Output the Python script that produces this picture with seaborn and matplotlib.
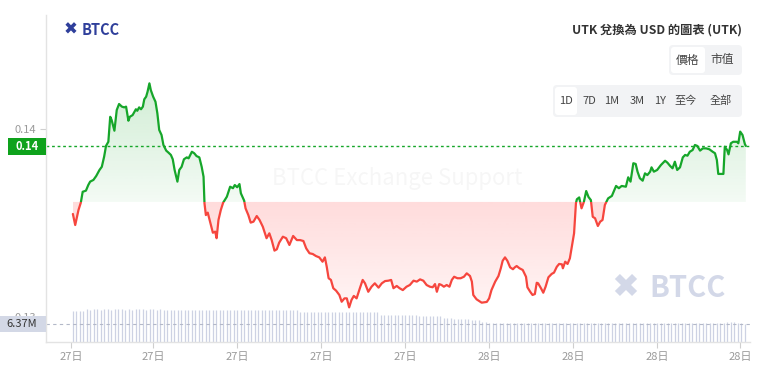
import numpy as np
import pandas as pd
import matplotlib
matplotlib.use("Agg")
import matplotlib.pyplot as plt
import seaborn as sns
from matplotlib.patches import Rectangle, FancyBboxPatch
from matplotlib.path import Path
from matplotlib.transforms import Affine2D

# ---------------- data ----------------
# minutes after 27日 09:00
minutes = [
    4, 9, 16, 21, 25, 32, 37, 41, 48, 54,
    61, 66, 71, 75, 80, 84, 87, 93, 98, 103,
    109, 114, 118, 123, 126, 132, 135, 139, 142, 146,
    150, 154, 157, 161, 164, 168, 171, 176, 181, 185,
    189, 194, 198, 204, 209, 214, 218, 222, 228, 232,
    237, 242, 248, 252, 259, 264, 269, 275, 280, 284,
    286, 289, 293, 298, 304, 309, 312, 316, 321, 326,
    334, 341, 347, 351, 356, 361, 364, 371, 374, 380,
    385, 391, 398, 404, 411, 419, 425, 430, 436, 441,
    446, 454, 461, 468, 476, 484, 491, 498, 504, 511,
    518, 525, 532, 539, 544, 548, 552, 557, 562, 568,
    575, 580, 586, 591, 596, 601, 606, 612, 619, 625,
    630, 637, 644, 651, 659, 666, 673, 680, 686, 691,
    698, 704, 711, 719, 726, 734, 741, 748, 755, 762,
    769, 775, 780, 784, 789, 794, 799, 805, 811, 816,
    821, 828, 835, 842, 848, 855, 859, 862, 869, 880,
    891, 896, 901, 909, 916, 921, 925, 930, 935, 941,
    947, 951, 955, 961, 968, 975, 978, 984, 989, 994,
    998, 1001, 1007, 1012, 1017, 1023, 1030, 1035, 1041, 1046,
    1052, 1054, 1059, 1064, 1069, 1075, 1078, 1082, 1084, 1089,
    1094, 1099, 1104, 1109, 1114, 1118, 1123, 1129, 1134, 1139,
    1144, 1151, 1159, 1168, 1174, 1180, 1189, 1194, 1199, 1205,
    1210, 1214, 1219, 1225, 1230, 1235, 1241, 1244, 1249, 1256,
    1264, 1273, 1278, 1284, 1289, 1294, 1299, 1305, 1311, 1316,
    1321, 1326, 1332, 1337, 1342, 1348, 1354, 1361, 1368, 1375,
    1380, 1384, 1387, 1398, 1401, 1406, 1409, 1414, 1419, 1427,
    1430, 1434, 1439, 1444, 1446,
]
prices = [
    0.13548, 0.13489, 0.13569, 0.13608, 0.13666, 0.13672, 0.13702, 0.13720, 0.13729, 0.13750,
    0.13782, 0.13799, 0.13853, 0.13910, 0.13932, 0.14065, 0.14048, 0.13991, 0.14101, 0.14133,
    0.14119, 0.14115, 0.14119, 0.14044, 0.14065, 0.14074, 0.14087, 0.14105, 0.14097, 0.14115,
    0.14105, 0.14119, 0.14158, 0.14172, 0.14198, 0.14243, 0.14207, 0.14172, 0.14145, 0.14084,
    0.13995, 0.13968, 0.13915, 0.13885, 0.13874, 0.13862, 0.13839, 0.13782, 0.13720, 0.13782,
    0.13799, 0.13839, 0.13849, 0.13844, 0.13879, 0.13871, 0.13856, 0.13849, 0.13799, 0.13746,
    0.13605, 0.13542, 0.13555, 0.13507, 0.13448, 0.13454, 0.13419, 0.13516, 0.13569, 0.13608,
    0.13640, 0.13693, 0.13685, 0.13702, 0.13690, 0.13707, 0.13658, 0.13619, 0.13578, 0.13542,
    0.13502, 0.13507, 0.13537, 0.13516, 0.13480, 0.13419, 0.13445, 0.13409, 0.13353, 0.13360,
    0.13395, 0.13427, 0.13419, 0.13383, 0.13431, 0.13409, 0.13409, 0.13404, 0.13365, 0.13339,
    0.13335, 0.13324, 0.13317, 0.13294, 0.13317, 0.13267, 0.13206, 0.13197, 0.13153, 0.13140,
    0.13117, 0.13081, 0.13099, 0.13099, 0.13051, 0.13090, 0.13112, 0.13099, 0.13153, 0.13197,
    0.13179, 0.13134, 0.13161, 0.13179, 0.13156, 0.13179, 0.13191, 0.13193, 0.13197, 0.13153,
    0.13165, 0.13153, 0.13143, 0.13161, 0.13170, 0.13193, 0.13188, 0.13200, 0.13193, 0.13170,
    0.13161, 0.13158, 0.13175, 0.13134, 0.13175, 0.13170, 0.13161, 0.13170, 0.13161, 0.13197,
    0.13214, 0.13206, 0.13206, 0.13214, 0.13232, 0.13218, 0.13188, 0.13117, 0.13094, 0.13076,
    0.13080, 0.13099, 0.13143, 0.13188, 0.13218, 0.13259, 0.13299, 0.13317, 0.13299, 0.13264,
    0.13254, 0.13264, 0.13271, 0.13259, 0.13250, 0.13214, 0.13158, 0.13134, 0.13117, 0.13122,
    0.13182, 0.13179, 0.13153, 0.13129, 0.13161, 0.13211, 0.13229, 0.13236, 0.13267, 0.13282,
    0.13280, 0.13259, 0.13294, 0.13282, 0.13312, 0.13400, 0.13445, 0.13605, 0.13626, 0.13636,
    0.13578, 0.13612, 0.13670, 0.13638, 0.13622, 0.13533, 0.13525, 0.13484, 0.13507, 0.13516,
    0.13596, 0.13631, 0.13644, 0.13697, 0.13685, 0.13697, 0.13693, 0.13743, 0.13720, 0.13818,
    0.13814, 0.13773, 0.13738, 0.13725, 0.13764, 0.13755, 0.13773, 0.13796, 0.13773, 0.13782,
    0.13808, 0.13831, 0.13821, 0.13803, 0.13791, 0.13826, 0.13782, 0.13796, 0.13849, 0.13862,
    0.13858, 0.13879, 0.13888, 0.13915, 0.13910, 0.13885, 0.13897, 0.13897, 0.13892, 0.13879,
    0.13871, 0.13835, 0.13761, 0.13761, 0.13906, 0.13888, 0.13865, 0.13924, 0.13932, 0.13932,
    0.13924, 0.13986, 0.13968, 0.13920, 0.13910,
]
base_price = 0.13612
last_price = 0.13910

# volume (millions), one bar every 7.5 minutes starting at minute 4
volume_m = [
    11.08, 11.08, 11.10, 11.08,
    11.50, 11.46, 11.50, 11.50, 11.43, 11.50, 11.50, 11.46, 11.50, 11.50, 11.50,
    11.43, 11.50, 11.46, 11.50, 11.50, 11.50, 11.46, 11.50, 11.50, 11.43, 11.50,
    11.32, 11.36, 11.32, 11.40, 11.32, 11.36, 11.32, 11.32, 11.40, 11.36, 11.32,
    11.32, 11.36, 11.40, 11.32, 11.36, 11.32, 11.32, 11.40, 11.36, 11.32, 11.32,
    11.36, 11.32, 11.40, 11.36, 11.32, 11.32, 11.36, 11.32, 11.40, 11.32, 11.36,
    11.32, 11.32, 11.36, 11.32, 11.25, 11.20,
    10.72, 10.75, 10.72, 10.72, 10.68, 10.72, 10.72, 10.75, 10.72, 10.72, 10.68,
    10.72, 10.72, 10.72, 10.75, 10.72, 10.68, 10.72, 10.72, 10.72, 10.68, 10.60, 10.50,
    9.60, 9.56, 9.56, 9.60, 9.56, 9.50, 9.56, 9.45, 9.40, 9.45, 9.40, 9.30,
    9.35, 9.30, 9.20, 9.25, 9.20, 9.10,
    8.50, 8.50, 8.45, 8.30, 8.30, 8.20, 8.14, 8.14,
    7.79, 7.79, 7.70,
    7.18, 7.00,
    6.62, 6.60, 6.62, 6.55, 6.62, 6.58, 6.62, 6.62, 6.55, 6.62,
    6.60, 6.62, 6.55, 6.62, 6.62, 6.58, 6.62, 6.55, 6.62, 6.62,
    6.60, 6.55, 6.62, 6.62, 6.58, 6.55, 6.62, 6.62, 6.60, 6.55,
    6.62, 6.58, 6.62, 6.55, 6.62, 6.62, 6.60, 6.55, 6.62, 6.58,
    6.62, 6.55, 6.62, 6.60, 6.62, 6.55, 6.58, 6.62, 6.62, 6.55,
    6.62, 6.60, 6.55, 6.62, 6.58, 6.62, 6.55, 6.62, 6.60, 6.62,
    6.55, 6.62, 6.58, 6.62, 6.60, 6.62, 6.55, 6.62, 6.97, 6.97,
    6.90, 6.62, 6.55, 6.37,
]
volume_start_min = 4
volume_step_min = 7.5
last_volume = 6.37
last_volume_label = "6.37M"

x_tick_minutes = [0, 176, 356, 536, 716, 896, 1076, 1256, 1434]
x_tick_labels = ["27日", "27日", "27日", "27日", "27日", "28日", "28日", "28日", "28日"]
y_ticks = [0.13, 0.14]
y_tick_labels = ["0.13", "0.14"]
last_price_label = "0.14"

title = "UTK 兌換為 USD 的圖表 (UTK)"
mode_buttons = ["價格", "市值"]
period_buttons = ["1D", "7D", "1M", "3M", "1Y", "至今", "全部"]

# ---------------- style ----------------
sns.set_theme(style="white")
plt.rcParams["font.family"] = ["Noto Sans CJK TC", "DejaVu Sans"]

GREEN = "#16a62a"
GREEN_BOX = "#0ea21c"
RED = "#f6463e"
TICK_GRAY = "#9a9a9a"
AXIS_GRAY = "#e3e3e3"
VOL_COLOR = "#cdd2e3"

W, H = 764, 378
fig = plt.figure(figsize=(W / 100, H / 100), dpi=100)
fig.patch.set_facecolor("white")
pix = Affine2D().scale(1 / W, -1 / H).translate(0, 1) + fig.transFigure


def fx(px):
    return px / W


def fy(py):
    return 1 - py / H


ax = fig.add_axes([fx(46), fy(342), fx(750) - fx(46), fy(15) - fy(342)])
ax2 = ax.twinx()
ax.set_zorder(2)
ax2.set_zorder(1)
ax.patch.set_visible(False)

XMIN, XMAX = -53.6, 1455.0
YMIN, YMAX = 0.128668, 0.146065

# ---------------- volume ----------------
vol_t = volume_start_min + np.arange(len(volume_m)) * volume_step_min
ax2.vlines(vol_t, 0, volume_m, color=VOL_COLOR, lw=0.9)
ax2.axhline(last_volume, color="#b3b8c8", lw=0.8, ls=(0, (3, 3)))
ax2.set_ylim(0, 115.7)
ax2.set_xlim(XMIN, XMAX)
ax2.axis("off")

# ---------------- price ----------------
t = np.array(minutes, dtype=float)
p = np.array(prices)
df = pd.DataFrame({"t": t, "p": p})

# gradient fills
pc_g = ax.fill_between(t, p, base_price, where=p >= base_price, interpolate=True,
                       color="none", lw=0)
pc_r = ax.fill_between(t, p, base_price, where=p <= base_price, interpolate=True,
                       color="none", lw=0)

g_img = np.zeros((256, 1, 4))
g_img[..., :3] = matplotlib.colors.to_rgb(GREEN)
g_img[:, 0, 3] = np.linspace(0.20, 0.05, 256)
im_g = ax.imshow(g_img, extent=[t.min(), t.max(), base_price, p.max()], aspect="auto",
                 origin="upper", interpolation="bilinear", zorder=1)
im_g.set_clip_path(Path.make_compound_path(*pc_g.get_paths()), ax.transData)

r_img = np.zeros((256, 1, 4))
r_img[..., :3] = matplotlib.colors.to_rgb("#ff4d4d")
r_img[:, 0, 3] = np.linspace(0.20, 0.06, 256)
im_r = ax.imshow(r_img, extent=[t.min(), t.max(), p.min(), base_price], aspect="auto",
                 origin="upper", interpolation="bilinear", zorder=1)
im_r.set_clip_path(Path.make_compound_path(*pc_r.get_paths()), ax.transData)

# line, coloured above / below the base value
sns.lineplot(data=df, x="t", y="p", ax=ax, color=GREEN, lw=1.6, sort=False,
             estimator=None, zorder=3)
line_g = ax.lines[-1]
sns.lineplot(data=df, x="t", y="p", ax=ax, color=RED, lw=1.6, sort=False,
             estimator=None, zorder=3)
line_r = ax.lines[-1]
clip_g = Rectangle((XMIN, base_price), XMAX - XMIN, YMAX - base_price, transform=ax.transData)
clip_r = Rectangle((XMIN, YMIN), XMAX - XMIN, base_price - YMIN, transform=ax.transData)
line_g.set_clip_path(clip_g)
line_r.set_clip_path(clip_r)

ax.axhline(last_price, color=GREEN, lw=1.0, ls=(0, (2, 2)), zorder=2)

ax.set_xlim(XMIN, XMAX)
ax.set_ylim(YMIN, YMAX)
ax.set_xlabel("")
ax.set_ylabel("")
ax.set_xticks(x_tick_minutes, x_tick_labels)
ax.set_yticks(y_ticks, y_tick_labels)
ax.tick_params(axis="both", colors="#cfcfcf", labelcolor=TICK_GRAY, labelsize=8,
               length=4, width=0.8, pad=3, bottom=True, left=True)
for s in ["top", "right"]:
    ax.spines[s].set_visible(False)
for s in ["left", "bottom"]:
    ax.spines[s].set_color(AXIS_GRAY)
    ax.spines[s].set_linewidth(1)

# watermarks
fig.text(397, 178, "BTCC Exchange Support", transform=pix, ha="center", va="center",
         fontsize=16, color="#000000", alpha=0.035)
fig.text(625, 288, "✖", transform=pix, ha="center", va="center", fontsize=24,
         color="#d3d8e8", family=["DejaVu Sans"], fontweight="bold")
fig.text(688, 288, "BTCC", transform=pix, ha="center", va="center", fontsize=21,
         fontweight="bold", color="#d3d8e8")

# ---------------- price / volume labels on the left ----------------
fig.add_artist(Rectangle((8, 138), 38, 17, transform=pix, color=GREEN_BOX, lw=0, zorder=5))
fig.text(27, 146.5, last_price_label, transform=pix, ha="center", va="center",
         fontsize=8, fontweight="bold", color="white", zorder=6)
fig.add_artist(Rectangle((0, 316), 46, 16, transform=pix, color="#d3d8e6", lw=0, zorder=5))
fig.text(22, 324, last_volume_label, transform=pix, ha="center", va="center",
         fontsize=8, color="#333333", zorder=6)

# ---------------- header ----------------
fig.text(70.5, 30, "✖", transform=pix, ha="center", va="center", fontsize=12,
         color="#2f3f9b", family=["DejaVu Sans"], fontweight="bold")
fig.text(101, 30, "BTCC", transform=pix, ha="center", va="center", fontsize=10.5,
         fontweight="bold", color="#2f3f9b")
fig.text(742, 30, title, transform=pix, ha="right", va="center", fontsize=8.8,
         fontweight="bold", color="#333333")

fig.add_artist(FancyBboxPatch((669, 45), 73, 30, boxstyle="round,pad=0,rounding_size=4",
                              transform=pix, fc="#f2f3f5", ec="none", zorder=3))
fig.add_artist(FancyBboxPatch((671, 47), 34, 26, boxstyle="round,pad=0,rounding_size=3",
                              transform=pix, fc="white", ec="none", zorder=4))
for xc, lab in zip([688, 722], mode_buttons):
    fig.text(xc, 60, lab, transform=pix, ha="center", va="center", fontsize=8.5,
             color="#444444", zorder=5)

fig.add_artist(FancyBboxPatch((553, 85), 189, 32, boxstyle="round,pad=0,rounding_size=4",
                              transform=pix, fc="#f2f3f5", ec="none", zorder=3))
fig.add_artist(FancyBboxPatch((555, 87), 22, 28, boxstyle="round,pad=0,rounding_size=3",
                              transform=pix, fc="white", ec="none", zorder=4))
for xc, lab in zip([566, 589, 612, 637, 660, 686, 721], period_buttons):
    fig.text(xc, 101, lab, transform=pix, ha="center", va="center", fontsize=8,
             color="#444444", zorder=5)

fig.savefig("out.png", dpi=100)
